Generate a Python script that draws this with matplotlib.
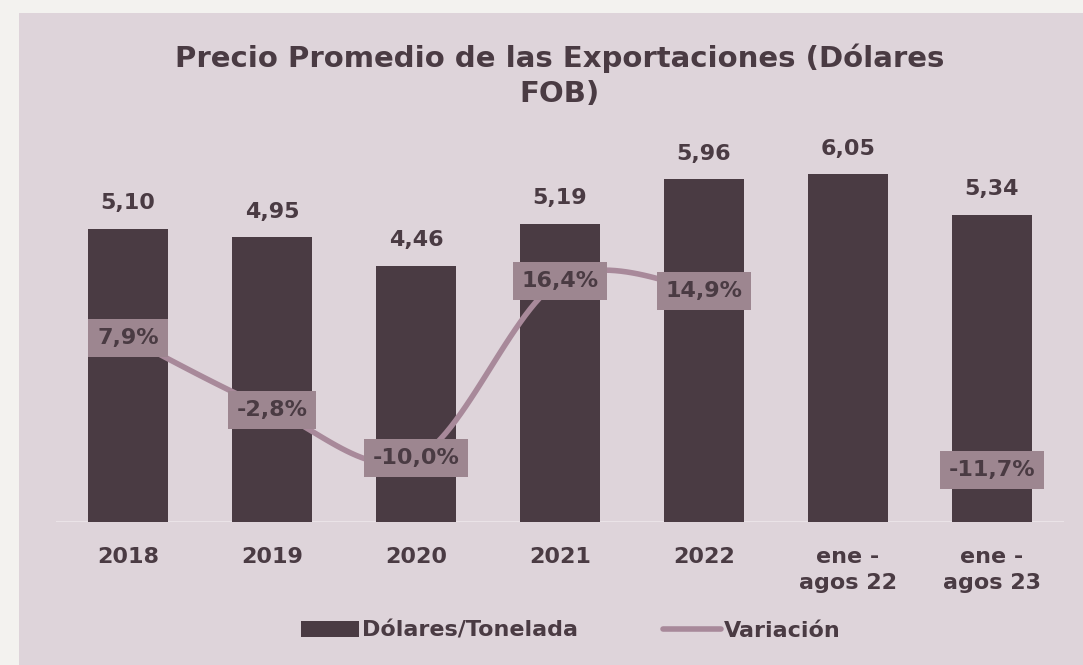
import numpy as np
import matplotlib.pyplot as plt
from matplotlib.patches import Rectangle

categorias = ['2018', '2019', '2020', '2021', '2022', 'ene -\nagos 22', 'ene -\nagos 23']
dolares = [5.10, 4.95, 4.46, 5.19, 5.96, 6.05, 5.34]
variacion = [7.9, -2.8, -10.0, 16.4, 14.9, np.nan, -11.7]

oscuro = '#4A3B43'
linea = '#A8899A'
caja = '#9D8690'
fondo = '#DED4DA'

plt.rcParams['font.family'] = ['DejaVu Sans']
plt.rcParams['font.weight'] = 'bold'


def suavizar(xs, ys, n=30):
    # curva tipo Catmull-Rom solo para dibujar la linea suavizada
    px, py = [], []
    xs, ys = list(xs), list(ys)
    for i in range(len(xs) - 1):
        x0, y0 = (xs[i - 1], ys[i - 1]) if i > 0 else (xs[i], ys[i])
        x3, y3 = (xs[i + 2], ys[i + 2]) if i + 2 < len(xs) else (xs[i + 1], ys[i + 1])
        x1, y1, x2, y2 = xs[i], ys[i], xs[i + 1], ys[i + 1]
        t = np.linspace(0, 1, n)
        for a, b, c, d, out in ((x0, x1, x2, x3, px), (y0, y1, y2, y3, py)):
            out.extend(0.5 * ((2 * b) + (-a + c) * t + (2 * a - 5 * b + 4 * c - d) * t ** 2
                              + (-a + 3 * b - 3 * c + d) * t ** 3))
    return np.array(px), np.array(py)


fig = plt.figure(figsize=(10.83, 6.65), dpi=100)
fig.patch.set_facecolor('#F3F2EF')
fig.patches.append(Rectangle((19 / 1083, 0), 1, 1 - 13 / 665, transform=fig.transFigure,
                             facecolor=fondo, edgecolor='none', zorder=-10))

W, H = 1083, 665
ax = fig.add_axes([56 / W, 1 - 522 / H, (1064 - 56) / W, (522 - 140) / H])
ax.set_facecolor('none')
x = np.arange(len(categorias))
ax.bar(x, dolares, width=0.55, color=oscuro, zorder=2, label='Dólares/Tonelada')
ax.set_xlim(-0.5, len(categorias) - 0.5)
ax.set_ylim(0, (522 - 140) / 57.5)
for xi, v in zip(x, dolares):
    ax.text(xi, v + 0.27, f'{v:.2f}'.replace('.', ','), ha='center', va='bottom',
            fontsize=16, fontweight='bold', color=oscuro)
for s in ax.spines.values():
    s.set_visible(False)
ax.axhline(0, color='#EAE3E7', lw=1.5, zorder=1)
ax.set_yticks([])
ax.set_xticks(x)
ax.set_xticklabels(categorias, fontsize=16, fontweight='bold', color=oscuro, linespacing=1.35)
ax.tick_params(axis='x', length=0, pad=18)

ax2 = ax.twinx()
ax2.set_ylim((391 - 522) / 6.73, (391 - 140) / 6.73)
ax2.axis('off')
validos = [i for i, v in enumerate(variacion) if not np.isnan(v)]
tramo = [i for i in validos if i <= 4]
sx, sy = suavizar(x[tramo], [variacion[i] for i in tramo])
ax2.plot(sx, sy, color=linea, lw=4, solid_capstyle='round', zorder=3, label='Variación')
for i in validos:
    ax2.text(x[i], variacion[i], f'{variacion[i]:.1f}%'.replace('.', ','), ha='center', va='center',
             fontsize=16, fontweight='bold', color=oscuro, zorder=5,
             bbox=dict(boxstyle='square,pad=0.4', facecolor=caja, edgecolor='none'))

h1, l1 = ax.get_legend_handles_labels()
h2, l2 = ax2.get_legend_handles_labels()
fig.legend(h1 + h2, l1 + l2, loc='center', bbox_to_anchor=(571 / W, 1 - 631 / H), ncol=2,
           frameon=False, labelcolor=oscuro, handlelength=2.6, handletextpad=0.15,
           columnspacing=3.8, prop={'weight': 'bold', 'size': 16})

fig.text(560 / W, 1 - 76 / H, 'Precio Promedio de las Exportaciones (Dólares\nFOB)', ha='center',
         va='center', fontsize=21, fontweight='bold', color=oscuro, linespacing=1.3)

fig.savefig('out.png', dpi=100, facecolor=fig.get_facecolor())
